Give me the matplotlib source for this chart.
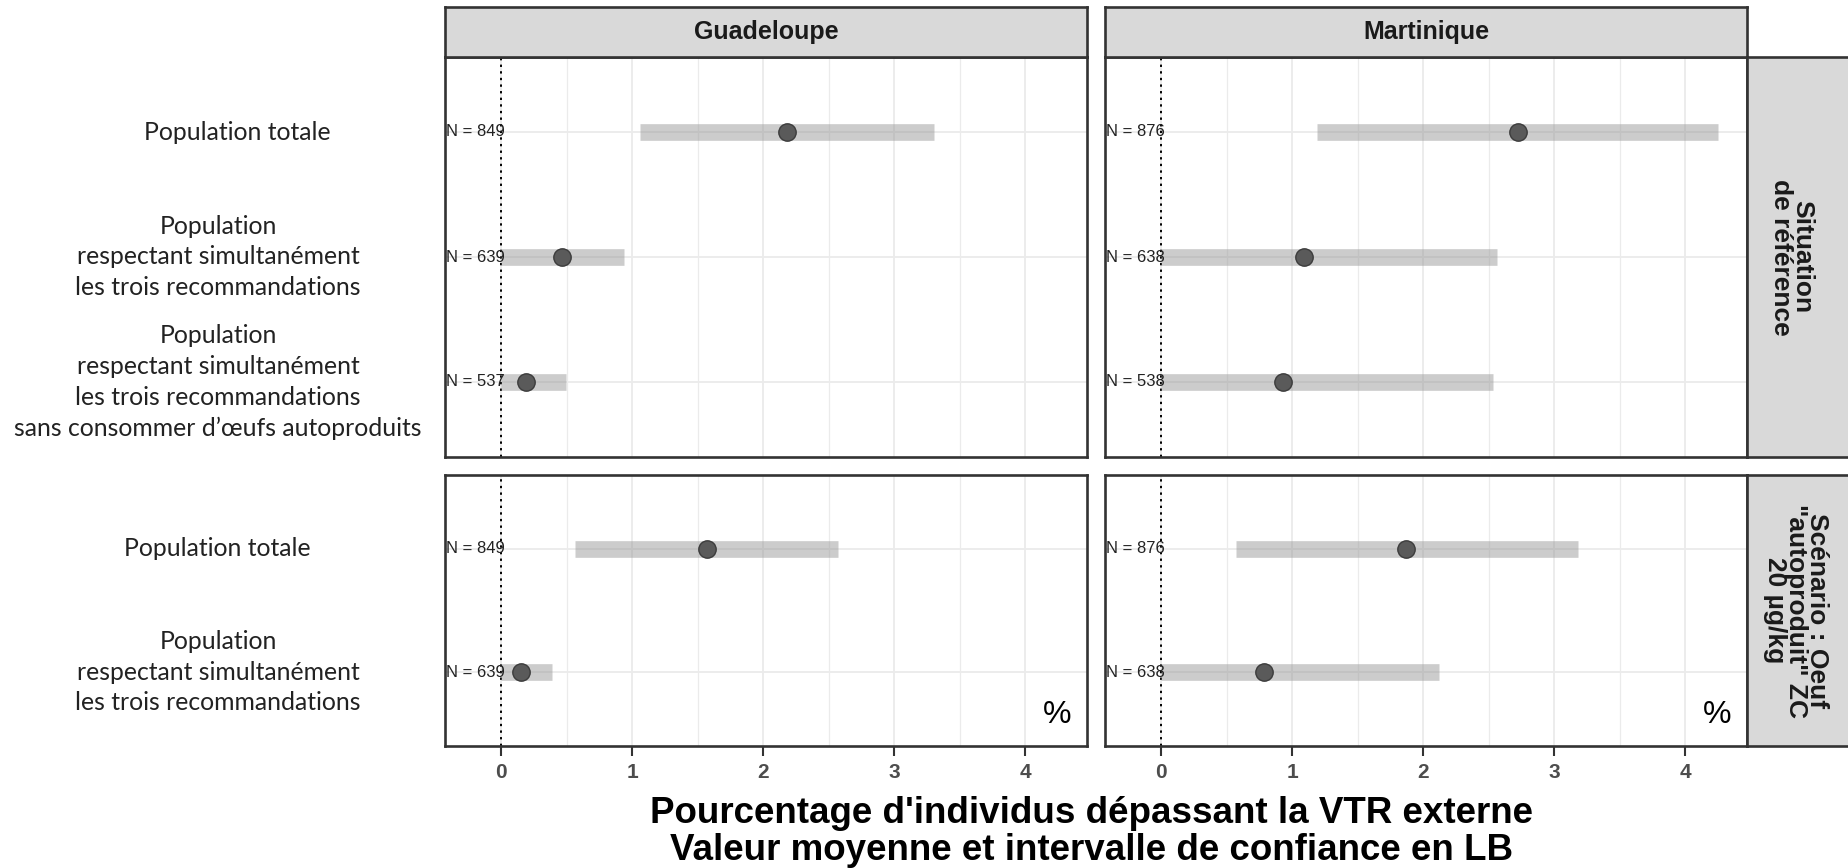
import numpy as np
import matplotlib
matplotlib.use("Agg")
import matplotlib.pyplot as plt
from matplotlib.transforms import blended_transform_factory

# Facets
regions = ["Guadeloupe", "Martinique"]
scenarios = ["Situation\nde référence",
             "Scénario : Oeuf\n\"autoproduit\" ZC\n20 µg/kg"]
row_labels = [
    ["Population totale",
     "Population\nrespectant simultanément\nles trois recommandations",
     "Population\nrespectant simultanément\nles trois recommandations\nsans consommer d’œufs autoproduits"],
    ["Population totale",
     "Population\nrespectant simultanément\nles trois recommandations"],
]

# Guadeloupe - situation de référence
gua_ref_mean = [2.18, 0.46, 0.19]
gua_ref_low = [1.06, 0.0, 0.0]
gua_ref_high = [3.30, 0.94, 0.49]
gua_ref_n = [849, 639, 537]

# Guadeloupe - scénario oeuf autoproduit
gua_sc_mean = [1.57, 0.15]
gua_sc_low = [0.56, 0.0]
gua_sc_high = [2.57, 0.39]
gua_sc_n = [849, 639]

# Martinique - situation de référence
mar_ref_mean = [2.72, 1.09, 0.93]
mar_ref_low = [1.19, 0.0, 0.0]
mar_ref_high = [4.25, 2.56, 2.53]
mar_ref_n = [876, 638, 538]

# Martinique - scénario oeuf autoproduit
mar_sc_mean = [1.87, 0.78]
mar_sc_low = [0.57, 0.0]
mar_sc_high = [3.18, 2.12]
mar_sc_n = [876, 638]

x_ticks = [0, 1, 2, 3, 4]

panels = {
    (0, 0): (gua_ref_mean, gua_ref_low, gua_ref_high, gua_ref_n),
    (0, 1): (mar_ref_mean, mar_ref_low, mar_ref_high, mar_ref_n),
    (1, 0): (gua_sc_mean, gua_sc_low, gua_sc_high, gua_sc_n),
    (1, 1): (mar_sc_mean, mar_sc_low, mar_sc_high, mar_sc_n),
}

W, H = 1849, 868
fig = plt.figure(figsize=(W / 100, H / 100), dpi=100)
fig.patch.set_facecolor("white")

ARIAL = "Liberation Sans"
BORDER = "#333333"
GRID = "#ebebeb"


def px_axes(x0, y0, x1, y1):
    return fig.add_axes([x0 / W, 1 - y1 / H, (x1 - x0) / W, (y1 - y0) / H])


def strip(x0, y0, x1, y1):
    s = px_axes(x0, y0, x1, y1)
    s.set_facecolor("#d9d9d9")
    s.set_xticks([])
    s.set_yticks([])
    for sp in s.spines.values():
        sp.set_color(BORDER)
        sp.set_linewidth(1.9)
    return s


col_x = [(445, 1087), (1105, 1747)]
row_y = [(57, 457), (475, 746)]
label_x = [[237, 218, 218], [217, 218]]
strip_text_x = [1792, 1796]

for r, (y0, y1) in enumerate(row_y):
    for c, (x0, x1) in enumerate(col_x):
        mean, low, high, n = panels[(r, c)]
        ys = np.arange(1, len(mean) + 1)
        ax = px_axes(x0, y0, x1, y1)
        ax.set_xlim(-0.43, 4.47)
        ax.set_ylim(len(mean) + 0.6, 0.4)

        # grid
        for v in np.arange(0, 4.5, 0.5):
            ax.axvline(v, color=GRID, lw=1.3 if v % 1 == 0 else 0.9, zorder=0)
        for y in ys:
            ax.axhline(y, color=GRID, lw=1.3, zorder=0)
        ax.axvline(0, color="black", ls=(0, (1.2, 2.2)), lw=1.4, zorder=1)

        # confidence intervals and means
        ax.hlines(ys, low, high, color="#9a9a9a", alpha=0.5, lw=12,
                  capstyle="butt", zorder=2)
        ax.scatter(mean, ys, s=12.5 ** 2, color="#5a5a5a",
                   edgecolor="#3c3c3c", lw=1, zorder=3)
        for y, k in zip(ys, n):
            ax.text(-0.2, y, f"N = {k}", ha="center", va="center",
                    fontsize=12, family=ARIAL, color="#222222", zorder=4)

        for sp in ax.spines.values():
            sp.set_color(BORDER)
            sp.set_linewidth(1.9)
        ax.set_yticks([])
        if r == len(row_y) - 1:
            ax.set_xticks(x_ticks)
            ax.tick_params(axis="x", length=7, width=1.5, color=BORDER,
                           labelsize=15, labelcolor="#4d4d4d", pad=5)
            for lbl in ax.get_xticklabels():
                lbl.set_fontweight("bold")
                lbl.set_family(ARIAL)
            ax.text(4.24, 2.35, "%", ha="center", va="center",
                    fontsize=23, family=ARIAL, color="black")
        else:
            ax.set_xticks([])

        # population labels on the left
        if c == 0:
            tr = blended_transform_factory(fig.transFigure, ax.transData)
            for y, lab, lx in zip(ys, row_labels[r], label_x[r]):
                ax.text(lx / W, y, lab, transform=tr, ha="center",
                        va="center", multialignment="center", fontsize=17.8,
                        family="Lato", color="#222222", linespacing=1.4,
                        clip_on=False)

# top strips
for c, (x0, x1) in enumerate(col_x):
    s = strip(x0, 7, x1, 57)
    s.text(0.5, 0.5, regions[c], ha="center", va="center", fontsize=18,
           fontweight="bold", family=ARIAL, color="#1a1a1a",
           transform=s.transAxes)

# right strips
for r, (y0, y1) in enumerate(row_y):
    s = strip(1747, y0, 1880, y1)
    s.text((strip_text_x[r] - 1747) / (1880 - 1747), 0.5, scenarios[r],
           ha="center", va="center", rotation=-90, multialignment="center",
           fontsize=19, fontweight="bold", family=ARIAL, color="#1a1a1a",
           linespacing=0.86, transform=s.transAxes)

fig.text(1092 / W, 1 - 832 / H,
         "Pourcentage d'individus dépassant la VTR externe\n"
         "Valeur moyenne et intervalle de confiance en LB",
         ha="center", va="center", multialignment="center", fontsize=26.5,
         fontweight="bold", family=ARIAL, color="black", linespacing=1.05)

fig.savefig("out.png", dpi=100)
